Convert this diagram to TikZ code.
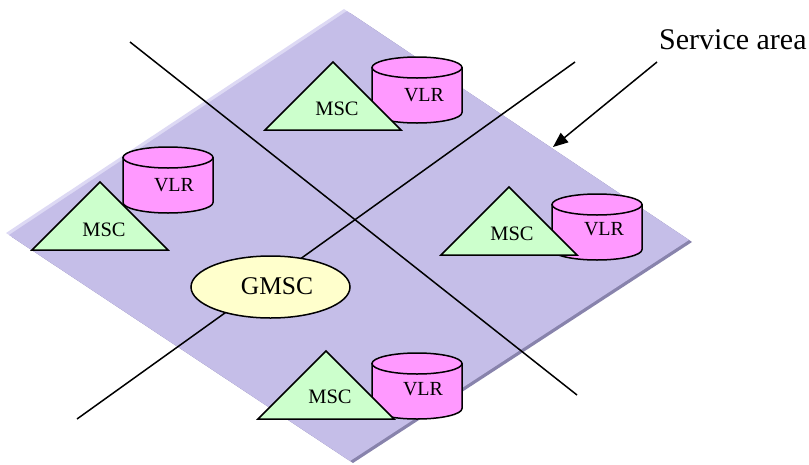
\documentclass[tikz,border=0pt]{standalone}
\usepackage{fontspec}
\setmainfont{Liberation Serif}
\usetikzlibrary{arrows.meta}
\definecolor{plane}{RGB}{197,190,232}
\definecolor{planelight}{RGB}{221,217,244}
\definecolor{planedark}{RGB}{136,131,172}
\definecolor{mscfill}{RGB}{204,255,204}
\definecolor{vlrfill}{RGB}{255,153,255}
\definecolor{gmscfill}{RGB}{255,255,204}
\tikzset{
  outline/.style={draw=black,line width=1.5pt,line join=miter},
  crossline/.style={draw=black,line width=1.5pt},
  lbl/.style={inner sep=0pt,font=\fontsize{20.5}{22}\selectfont},
  vlrlbl/.style={inner sep=0pt,font=\fontsize{20}{22}\selectfont},
  msctri/.pic={
    \path[outline,fill=mscfill] (0,0) -- (68,68) -- (-68,68) -- cycle;
  },
  vlrcyl/.pic={
    \path[outline,fill=vlrfill] (-45,0) -- (-45,45)
      arc[start angle=180,end angle=0,x radius=45,y radius=10.5]
      -- (45,0) -- cycle;
    \path[outline,fill=vlrfill] (0,0) ellipse[x radius=45,y radius=10.5];
  }
}
\begin{document}
\begin{tikzpicture}[x=1pt,y=-1pt]
\useasboundingbox (0,0) rectangle (809,464);
% service area plane
\coordinate (T) at (347,11);
\coordinate (R) at (689,240);
\coordinate (B) at (350,461);
\coordinate (L) at (9,235);
\fill[planelight] ([shift={(-3,-2)}]T) -- ([shift={(-3,-2)}]R) -- ([shift={(-3,-2)}]B) -- ([shift={(-3,-2)}]L) -- cycle;
\fill[planedark] ([shift={(3,2)}]T) -- ([shift={(3,2)}]R) -- ([shift={(3,2)}]B) -- ([shift={(3,2)}]L) -- cycle;
\fill[plane] (T) -- (R) -- (B) -- (L) -- cycle;
% crossing lines
\coordinate (c1a) at (130,42);
\coordinate (c1b) at (577,395);
\coordinate (c2a) at (77,419);
\coordinate (c2b) at (575,62);
\draw[crossline] (c1a) -- (c1b);
\draw[crossline] (c2a) -- (c2b);
% GMSC
\path[outline,fill=gmscfill] (270.5,287) ellipse[x radius=79.5,y radius=31];
\node[inner sep=0pt,font=\fontsize{25.5}{28}\selectfont] (gmsc) at (277,286) {GMSC};
% VLR cylinders
\pic at (417,67.5) {vlrcyl};
\pic at (168,157.5) {vlrcyl};
\pic at (597,204.5) {vlrcyl};
\pic at (417,363.5) {vlrcyl};
% MSC triangles
\pic at (333,62) {msctri};
\pic at (100,182) {msctri};
\pic at (509,187) {msctri};
\pic at (326,351) {msctri};
% labels
\node[lbl] (msc1) at (337,109) {MSC};
\node[lbl] (msc2) at (104,229.5) {MSC};
\node[lbl] (msc3) at (512,234) {MSC};
\node[lbl] (msc4) at (330,397) {MSC};
\node[vlrlbl] (vlr1) at (424,95) {VLR};
\node[vlrlbl] (vlr2) at (174,185) {VLR};
\node[vlrlbl] (vlr3) at (604,229.5) {VLR};
\node[vlrlbl] (vlr4) at (423,389) {VLR};
% service area label and arrow
\node[inner sep=0pt,anchor=base west,font=\fontsize{30}{32}\selectfont] (sa) at (659,49.3) {Service area};
\coordinate (satail) at (657,62);
\coordinate (satip) at (553,147);
\draw[line width=1.5pt,-{Triangle[length=15pt,width=12pt]}] (satail) -- (satip);
\end{tikzpicture}
\end{document}
